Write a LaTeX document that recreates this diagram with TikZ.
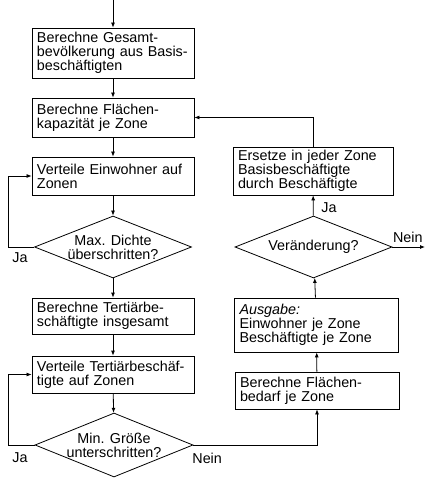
\documentclass[tikz,border=0pt]{standalone}
\usepackage{fontspec}
\setmainfont{Liberation Sans}
\usetikzlibrary{shapes.geometric,arrows.meta}

\tikzset{
  stepbox/.style={draw,rectangle,align=left,inner xsep=5bp,inner ysep=2bp,
    text width=#1,minimum height=36bp},
  stepbox/.default=152bp,
  query/.style={draw,diamond,aspect=2.5,inner sep=-1bp,align=center,
    minimum width=157bp,minimum height=62bp},
  flow/.style={-{Latex[length=5bp,width=4bp]}},
  lbl/.style={inner sep=0pt}
}

\begin{document}
\begin{tikzpicture}[x=1bp,y=-1bp,line width=0.8bp,font=\fontsize{14.4}{14}\selectfont]
  \useasboundingbox (0,0) rectangle (425,480);
  \coordinate (start) at (113,0);
  \node[stepbox,minimum height=50bp] (gesamt) at (113,53)
    {Berechne Gesamt-\\bevölkerung aus Basis-\\beschäftigten};
  \node[stepbox,minimum height=39bp] (kapaz) at (113,117.5)
    {Berechne Flächen-\\kapazität je Zone};
  \node[stepbox,minimum height=38bp] (einw) at (113,176)
    {Verteile Einwohner auf\\Zonen};
  \node[query] (dichte) at (113,247) {Max. Dichte\\überschritten?};
  \node[stepbox] (tert) at (113,316)
    {Berechne Tertiärbe-\\schäftigte insgesamt};
  \node[stepbox,minimum height=37bp] (verttert) at (113,374.5)
    {Verteile Tertiärbeschäf-\\tigte auf Zonen};
  \node[query,minimum width=158bp,minimum height=64bp] (groesse) at (114,445)
    {Min. Größe\\unterschritten?};

  \node[stepbox=154bp,minimum height=37bp] (bedarf) at (317,390.5)
    {Berechne Flächen-\\bedarf je Zone};
  \node[stepbox=154bp,minimum height=54bp] (ausgabe) at (316.5,325)
    {\textit{Ausgabe:}\\Einwohner je Zone\\Beschäftigte je Zone};
  \node[query] (veraend) at (313.5,247) {Veränderung?};
  \node[stepbox=150bp,minimum height=48bp] (ersetze) at (313,171)
    {Ersetze in jeder Zone\\Basisbeschäftigte\\durch Beschäftigte};
  \coordinate (ende) at (425,247);

  \draw[flow] (start) -- (gesamt);
  \draw[flow] (gesamt) -- (kapaz);
  \draw[flow] (kapaz) -- (einw);
  \draw[flow] (einw) -- (dichte);
  \draw[flow] (dichte) -- (tert);
  \draw[flow] (tert) -- (verttert);
  \draw[flow] (verttert) -- (groesse);
  \draw[flow] (dichte.west) -- (8,247) |- (einw.west);
  \draw[flow] (groesse.west) -- (8,445) |- (verttert.west);
  \draw[flow] (groesse.east) -| (bedarf.south);
  \draw[flow] (bedarf) -- (ausgabe);
  \draw[flow] (ausgabe) -- (veraend);
  \draw[flow] (veraend) -- (ersetze);
  \draw[flow] (ersetze.north) |- (kapaz.east);
  \draw[flow] (veraend.east) -- (ende);

  \node[lbl] (ja1) at (20,258) {Ja};
  \node[lbl] (ja2) at (20,458) {Ja};
  \node[lbl,anchor=west] (nein1) at (192,458) {Nein};
  \node[lbl,anchor=west] (ja3) at (321,208) {Ja};
  \node[lbl,anchor=east] (nein2) at (423,237) {Nein};
\end{tikzpicture}
\end{document}
